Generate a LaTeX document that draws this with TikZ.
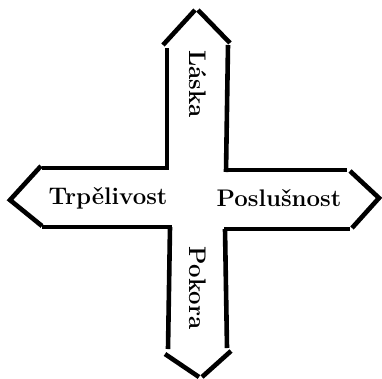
\documentclass[tikz,border=0pt]{standalone}
\usepackage{tikz}
\usetikzlibrary{positioning}
\tikzset{
  bar/.style={line width=4.6pt},
  slovo/.style={font=\bfseries\fontsize{24}{24}\selectfont,inner sep=0pt},
}
\begin{document}
\begin{tikzpicture}[x=1pt,y=-1pt]
  \useasboundingbox (0,0) rectangle (382,378);
  % horni rameno
  \draw[bar] (163,45) -- (195,10);
  \draw[bar] (198,10) -- (230,43);
  \draw[bar] (167,48) -- (167,170);
  \draw[bar] (228,45) -- (226,172);
  % leve rameno
  \draw[bar] (42,168) -- (169,168);
  \draw[bar] (41,166) -- (10,200) -- (42,226);
  \draw[bar] (42,227) -- (172,227);
  % prave rameno
  \draw[bar] (224,170) -- (347,170);
  \draw[bar] (350,171) -- (379,198) -- (352,228);
  \draw[bar] (224,229) -- (350,229);
  % dolni rameno
  \draw[bar] (170,227) -- (168,349);
  \draw[bar] (225,229) -- (227,348);
  \draw[bar] (165,354) -- (199,377);
  \draw[bar] (202,377) -- (231,351);
  % texty
  \node[slovo,rotate=-90] (laska) at (198,84) {Láska};
  \node[slovo,rotate=-90] (pokora) at (198,288) {Pokora};
  \node[slovo] (trp) at (108,198) {Trpělivost};
  \node[slovo] (posl) at (279,198) {Poslušnost};
\end{tikzpicture}
\end{document}
